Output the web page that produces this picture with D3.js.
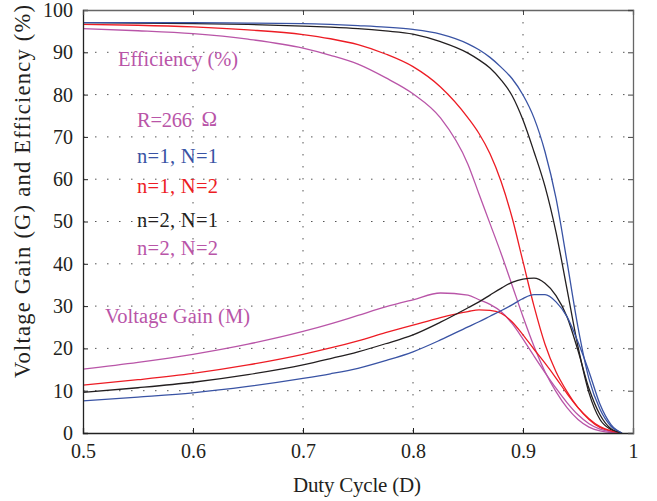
<!DOCTYPE html>
<html>
<head>
<meta charset="utf-8">
<script src="https://cdn.jsdelivr.net/npm/d3@7"></script>
<style>
  body { margin: 0; background: #fff; }
  svg { font-family: "Liberation Serif", "Times New Roman", serif; }
</style>
</head>
<body>
<script>
// duty cycle samples
var duty = [0.5, 0.55, 0.6, 0.65, 0.7, 0.725, 0.75, 0.775, 0.8, 0.825, 0.85, 0.86, 0.87, 0.88, 0.89,
            0.9, 0.91, 0.92, 0.93, 0.94, 0.95, 0.96, 0.97, 0.98, 0.99];

// efficiency (%)
var effN1N1 = [97.0, 97.0, 97.0, 96.9, 96.8, 96.6, 96.3, 95.95, 95.4, 94.3, 92.0, 90.6, 88.8, 86.5, 83.8,
               79.9, 74.5, 66.5, 55.5, 40.5, 25.0, 12.8, 5.6, 1.6, 0];
var effN1N2 = [96.6, 96.4, 96.0, 95.3, 94.2, 93.2, 91.8, 89.6, 86.6, 81.8, 74.5, 70.8, 66.0, 59.5, 51.0,
               40.5, 30.0, 21.0, 14.5, 9.8, 6.0, 3.2, 1.3, 0.4, 0];
var effN2N1 = [97.0, 96.9, 96.8, 96.6, 96.2, 95.95, 95.6, 95.05, 94.3, 92.5, 89.8, 88.2, 86.3, 83.5, 79.8,
               74.0, 66.5, 58.3, 47.5, 34.0, 20.4, 9.5, 3.2, 0.8, 0];
var effN2N2 = [95.6, 95.1, 94.4, 93.1, 91.0, 89.3, 87.2, 84.0, 80.2, 74.5, 63.5, 56.5, 49.5, 42.5, 35.0,
               27.5, 20.5, 14.5, 9.8, 6.0, 3.2, 1.4, 0.5, 0.1, 0];

// voltage gain
var gainN1N1 = [7.6, 8.5, 9.5, 11.0, 12.9, 14.0, 15.3, 17.1, 19.2, 22.0, 25.1, 26.3, 27.6, 28.9, 30.3,
                31.8, 32.7, 32.7, 31.0, 27.5, 21.5, 14.5, 6.8, 2.0, 0];
var gainN1N2 = [11.3, 12.6, 14.1, 16.1, 18.6, 20.1, 21.8, 23.7, 25.5, 27.3, 28.7, 29.1, 29.0, 28.3, 26.3,
                23.2, 19.8, 16.5, 13.0, 9.3, 6.0, 3.4, 1.5, 0.5, 0];
var gainN2N1 = [9.6, 10.7, 12.0, 13.8, 16.1, 17.6, 19.2, 21.1, 23.2, 26.2, 29.6, 31.0, 32.6, 34.2, 35.6,
                36.4, 36.6, 35.4, 32.5, 27.5, 19.5, 10.5, 4.3, 1.0, 0];
var gainN2N2 = [15.1, 16.7, 18.6, 21.0, 24.0, 25.8, 27.8, 29.8, 31.5, 33.1, 32.6, 31.5, 30.4, 28.7, 25.9,
                22.2, 18.2, 14.3, 10.6, 7.2, 4.3, 2.2, 0.9, 0.3, 0];

var xTicks = [0.5, 0.6, 0.7, 0.8, 0.9, 1];
var yTicks = [0, 10, 20, 30, 40, 50, 60, 70, 80, 90, 100];

var colBlue = "#3953a4", colRed = "#ed1c24", colBlack = "#231f20", colPurple = "#b955a8";

var series = [
  {vals: effN2N2, color: colPurple},
  {vals: effN1N2, color: colRed},
  {vals: effN2N1, color: colBlack},
  {vals: effN1N1, color: colBlue},
  {vals: gainN2N2, color: colPurple},
  {vals: gainN1N2, color: colRed},
  {vals: gainN2N1, color: colBlack},
  {vals: gainN1N1, color: colBlue}
];

var legend = [
  {text: "n=1, N=1", color: colBlue, y: 162.7},
  {text: "n=1, N=2", color: colRed, y: 193.3},
  {text: "n=2, N=1", color: colBlack, y: 227.3},
  {text: "n=2, N=2", color: colPurple, y: 255.3}
];

var margin = {top: 10, right: 24, bottom: 68, left: 83},
    width = 657 - margin.left - margin.right,
    height = 501 - margin.top - margin.bottom;

var x = d3.scaleLinear().domain([0.5, 1]).range([0, width]);
var y = d3.scaleLinear().domain([0, 100]).range([height, 0]);

var svg = d3.select("body").append("svg")
    .attr("width", 657)
    .attr("height", 501);

var g = svg.append("g")
    .attr("transform", "translate(" + margin.left + "," + margin.top + ")");

// dotted grid
g.append("g").selectAll("line")
    .data(xTicks.slice(1, -1))
  .enter().append("line")
    .attr("x1", function(d) { return x(d); })
    .attr("x2", function(d) { return x(d); })
    .attr("y1", 0).attr("y2", height)
    .attr("stroke", "#555").attr("stroke-width", 1)
    .attr("stroke-dasharray", "1.5,10.5");

g.append("g").selectAll("line")
    .data(yTicks.slice(1, -1))
  .enter().append("line")
    .attr("y1", function(d) { return y(d); })
    .attr("y2", function(d) { return y(d); })
    .attr("x1", 0).attr("x2", width)
    .attr("stroke", "#555").attr("stroke-width", 1)
    .attr("stroke-dasharray", "1.5,10.5");

// curves
var line = d3.line()
    .x(function(d, i) { return x(duty[i]); })
    .y(function(d) { return y(d); })
    .curve(d3.curveMonotoneX);

g.append("g").selectAll("path")
    .data(series)
  .enter().append("path")
    .attr("d", function(s) { return line(s.vals); })
    .attr("fill", "none")
    .attr("stroke", function(s) { return s.color; })
    .attr("stroke-width", 1.3);

// axes (ticks pointing inward)
var bottomAxis = g.append("g")
    .attr("transform", "translate(0," + height + ")")
    .call(d3.axisBottom(x).tickValues(xTicks).tickSize(-5).tickPadding(11)
      .tickFormat(function(d) { return d === 1 ? "1" : d3.format(".1f")(d); }));
var leftAxis = g.append("g")
    .call(d3.axisLeft(y).tickValues(yTicks).tickSize(-5).tickPadding(10));
var topAxis = g.append("g")
    .call(d3.axisTop(x).tickValues(xTicks).tickSize(-5).tickFormat(""));
var rightAxis = g.append("g")
    .attr("transform", "translate(" + width + ",0)")
    .call(d3.axisRight(y).tickValues(yTicks).tickSize(-5).tickFormat(""));

[bottomAxis, leftAxis].forEach(function(a) {
  a.select(".domain").attr("stroke", "#222").attr("stroke-width", 1.3);
  a.selectAll(".tick line").attr("stroke", "#222");
  a.selectAll("text")
      .attr("font-family", "Liberation Serif, serif")
      .attr("font-size", 20)
      .attr("fill", "#231f20");
});
[topAxis, rightAxis].forEach(function(a) {
  a.select(".domain").attr("stroke", "#666").attr("stroke-width", 1.3);
  a.selectAll(".tick line").attr("stroke", "#444");
});

// axis titles
svg.append("text")
    .attr("x", 293)
    .attr("y", 492)
    .attr("font-size", 21)
    .attr("textLength", 128)
    .attr("fill", "#231f20")
    .text("Duty Cycle (D)");

svg.append("text")
    .attr("transform", "translate(30,378) rotate(-90)")
    .attr("font-size", 22.5)
    .attr("textLength", 373)
    .attr("fill", "#231f20")
    .text("Voltage Gain (G) and Efficiency (%)");

// annotations
svg.append("text")
    .attr("x", 118).attr("y", 66)
    .attr("font-size", 20.5)
    .attr("textLength", 120)
    .attr("fill", colPurple)
    .text("Efficiency (%)");

svg.append("text")
    .attr("x", 105).attr("y", 323.3)
    .attr("font-size", 20.5)
    .attr("textLength", 145)
    .attr("fill", colPurple)
    .text("Voltage Gain (M)");

svg.append("text")
    .attr("x", 137).attr("y", 126.7)
    .attr("font-size", 20.5)
    .attr("textLength", 55)
    .attr("fill", colPurple)
    .text("R=266");
svg.append("text")
    .attr("x", 201.5).attr("y", 125.5)
    .attr("font-size", 21)
    .attr("fill", colPurple)
    .text("Ω");

svg.append("g").selectAll("text")
    .data(legend)
  .enter().append("text")
    .attr("x", 137)
    .attr("y", function(d) { return d.y; })
    .attr("font-size", 20.5)
    .attr("textLength", 81)
    .attr("fill", function(d) { return d.color; })
    .text(function(d) { return d.text; });
</script>
</body>
</html>
